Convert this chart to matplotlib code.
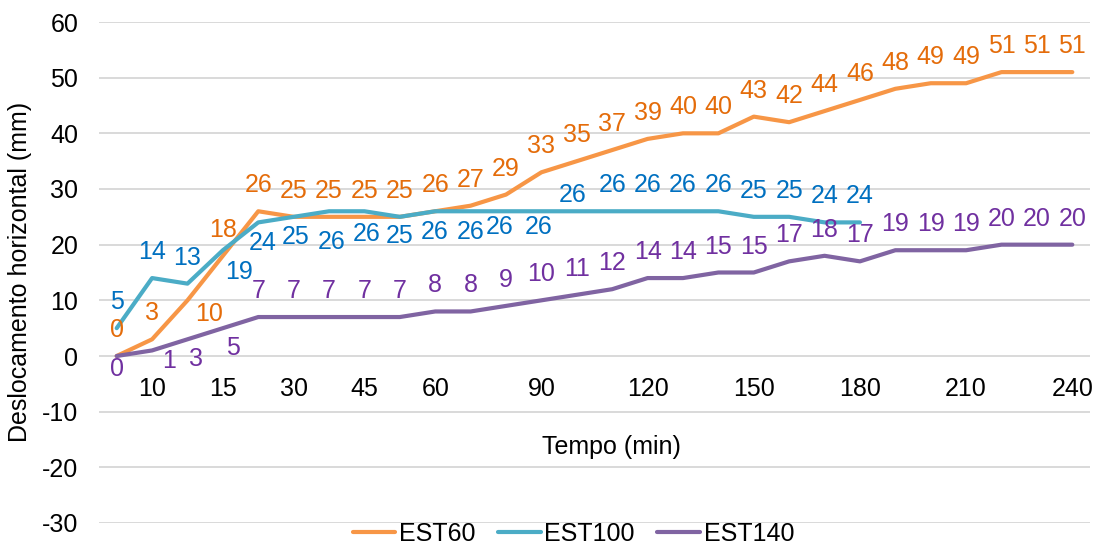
import numpy as np
import matplotlib
matplotlib.use('Agg')
import matplotlib.pyplot as plt

plt.rcParams['font.family'] = ['Liberation Sans', 'DejaVu Sans']
plt.rcParams['axes.unicode_minus'] = False

# categories (only some of them carry a label in the original)
categories = ['', '10', '', '15', '', '30', '', '45', '', '60', '', '', '90', '', '',
              '120', '', '', '150', '', '', '180', '', '', '210', '', '', '240']

est60 = [0, 3, 10, 18, 26, 25, 25, 25, 25, 26, 27, 29, 33, 35, 37, 39, 40, 40,
         43, 42, 44, 46, 48, 49, 49, 51, 51, 51]
est100 = [5, 14, 13, 19, 24, 25, 26, 26, 25, 26, 26, 26, 26, 26, 26, 26, 26, 26,
          25, 25, 24, 24]
est140 = [0, 1, 3, 5, 7, 7, 7, 7, 7, 8, 8, 9, 10, 11, 12, 14, 14, 15, 15, 17,
          18, 17, 19, 19, 19, 20, 20, 20]

series = [
    ('EST60', est60, '#F79646', '#E46C0A'),
    ('EST100', est100, '#4BACC6', '#0070C0'),
    ('EST140', est140, '#8064A2', '#7030A0'),
]

# label offsets in pixels (dx, dy); default is above the point
ABOVE = (0, 28.5)
label_offsets = {
    'EST60': {2: (21.5, -11)},
    'EST100': {3: (16.5, -19), 4: (4, -18), 5: (2, -17.5), 6: (3, -28),
               7: (2, -20), 8: (0, -17), 9: (-1, -18), 10: (0, -18),
               11: (-6, -13), 12: (-3, -13), 13: (-4, 19)},
    'EST140': {0: (0, -10.5), 1: (16.5, -8), 2: (8.5, -17), 3: (10.5, -17)},
}

FS = 18
W, H = 1097, 546
fig = plt.figure(figsize=(W / 100, H / 100), dpi=100)
ax = fig.add_axes([99 / W, 1 - 523 / H, (1090 - 99) / W, (523 - 22) / H])

handles = []
for name, vals, lc, tc in series:
    x = np.arange(len(vals))
    h, = ax.plot(x, vals, color=lc, lw=3, solid_capstyle='round',
                 solid_joinstyle='round', label=name, zorder=3)
    handles.append(h)
    offs = label_offsets[name]
    for i, v in enumerate(vals):
        dx, dy = offs.get(i, ABOVE)
        ax.annotate(str(v), (i, v), xytext=(dx, dy), textcoords='offset pixels',
                    ha='center', va='center_baseline', color=tc, fontsize=FS,
                    zorder=4)

ax.set_xlim(-0.5, len(categories) - 0.5)
ax.set_ylim(-30, 60)
ax.set_yticks(range(-30, 61, 10))
ax.set_xticks(range(len(categories)))
ax.set_xticklabels(categories)
ax.grid(axis='y', color='#D9D9D9', lw=1.4)
ax.set_axisbelow(True)
for s in ax.spines.values():
    s.set_visible(False)
ax.spines['bottom'].set_position(('data', 0))
ax.tick_params(axis='x', length=0, pad=15, labelsize=FS)
ax.tick_params(axis='y', length=0, pad=15, labelsize=FS)

fig.text(611 / W, 1 - 447 / H, 'Tempo (min)', ha='center', va='center', fontsize=FS)
fig.text(20 / W, 1 - 272 / H, 'Deslocamento horizontal (mm)', ha='center',
         va='center', rotation=90, fontsize=FS)

fig.legend(handles=handles, loc='center', bbox_to_anchor=(573.5 / W, 1 - 534 / H),
           ncol=3, frameon=False, fontsize=FS, handlelength=1.7,
           handletextpad=0.15, columnspacing=0.9, borderpad=0.2)

plt.savefig('out.png', dpi=100)
